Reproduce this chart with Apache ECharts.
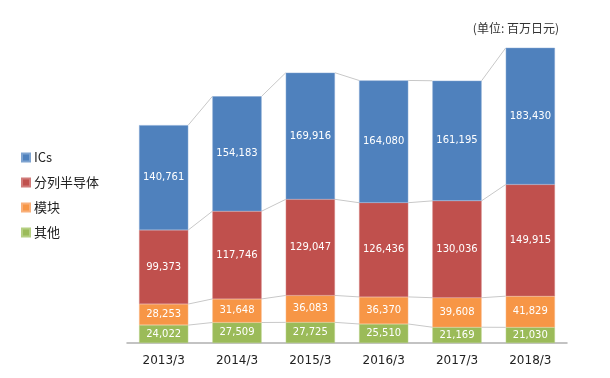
<!DOCTYPE html>
<html>
<head>
<meta charset="utf-8">
<script src="https://cdn.jsdelivr.net/npm/echarts@6/dist/echarts.min.js"></script>
<style>
  html, body { margin: 0; padding: 0; background: #fff; }
  #chart { width: 610px; height: 378px; }
</style>
</head>
<body>
<div id="chart"></div>
<script>
// 年度 (单位: 百万日元)
const categories = ['2013/3', '2014/3', '2015/3', '2016/3', '2017/3', '2018/3'];
const others   = [24022, 27509, 27725, 25510, 21169, 21030];
const modules  = [28253, 31648, 36083, 36370, 39608, 41829];
const discrete = [99373, 117746, 129047, 126436, 130036, 149915];
const ics      = [140761, 154183, 169916, 164080, 161195, 183430];

const stackOrder = [others, modules, discrete, ics];
const gapRatio = 0.33;

function fmt(v) {
  return String(v).replace(/\B(?=(\d{3})+(?!\d))/g, ',');
}

function cum(level, i) {
  let s = 0;
  for (let k = 0; k <= level; k++) s += stackOrder[k][i];
  return s;
}

const chart = echarts.init(document.getElementById('chart'));

const labelStyle = {
  show: true,
  position: 'inside',
  color: '#fff',
  fontSize: 10,
  fontFamily: '"DejaVu Sans", sans-serif',
  formatter: p => fmt(p.value)
};

function barSeries(name, data, color, border) {
  return {
    name: name,
    type: 'bar',
    stack: 'total',
    barCategoryGap: (gapRatio * 100) + '%',
    data: data,
    itemStyle: { color: color, borderColor: border, borderWidth: 0.5 },
    label: labelStyle,
    z: 3
  };
}

// 连接线：每个堆叠层顶部，从本柱右上角连到下一柱左上角
const connectorSeries = {
  type: 'custom',
  silent: true,
  z: 1,
  data: categories.slice(0, -1).map((c, i) => [i, 0]),
  encode: { x: 0, y: 1 },
  renderItem: function (params, api) {
    const i = api.value(0);
    const band = api.size([1, 0])[0];
    const half = band * (1 - gapRatio) / 2;
    const children = [];
    for (let k = 0; k < stackOrder.length; k++) {
      const a = api.coord([i, cum(k, i)]);
      const b = api.coord([i + 1, cum(k, i + 1)]);
      children.push({
        type: 'line',
        shape: { x1: a[0] + half, y1: a[1], x2: b[0] - half, y2: b[1] },
        style: { stroke: '#c8c8c8', lineWidth: 1 }
      });
    }
    return { type: 'group', children: children };
  }
};

chart.setOption({
  animation: false,
  grid: { left: 127, right: 43, top: 45, bottom: 35 },
  legend: {
    orient: 'vertical',
    left: 21,
    top: 151,
    padding: 0,
    icon: 'rect',
    itemWidth: 8,
    itemHeight: 8,
    itemGap: 12,
    data: ['ICs', '分列半导体', '模块', '其他'],
    textStyle: { fontSize: 13, color: '#222', fontFamily: '"Noto Sans CJK SC", sans-serif', padding: [0, 0, 0, -1] }
  },
  graphic: [{
    type: 'text',
    right: 51,
    top: 22,
    style: { text: '(单位: 百万日元)', fill: '#333', font: '12px "Noto Sans CJK SC", sans-serif' }
  }],
  xAxis: {
    type: 'category',
    data: categories,
    axisLine: { lineStyle: { color: '#b0b0b0', width: 1.5 } },
    axisTick: { show: false },
    axisLabel: { color: '#222', fontSize: 12, margin: 12, fontFamily: '"DejaVu Sans", sans-serif' }
  },
  yAxis: {
    type: 'value',
    min: 0,
    max: 400000,
    show: false,
    splitLine: { show: false }
  },
  series: [
    barSeries('其他', others, '#9bbb59', '#b5cf82'),
    barSeries('模块', modules, '#f79646', '#f9b07a'),
    barSeries('分列半导体', discrete, '#c0504d', '#d07b79'),
    barSeries('ICs', ics, '#4f81bd', '#7ea3d0'),
    connectorSeries
  ]
});
</script>
</body>
</html>
